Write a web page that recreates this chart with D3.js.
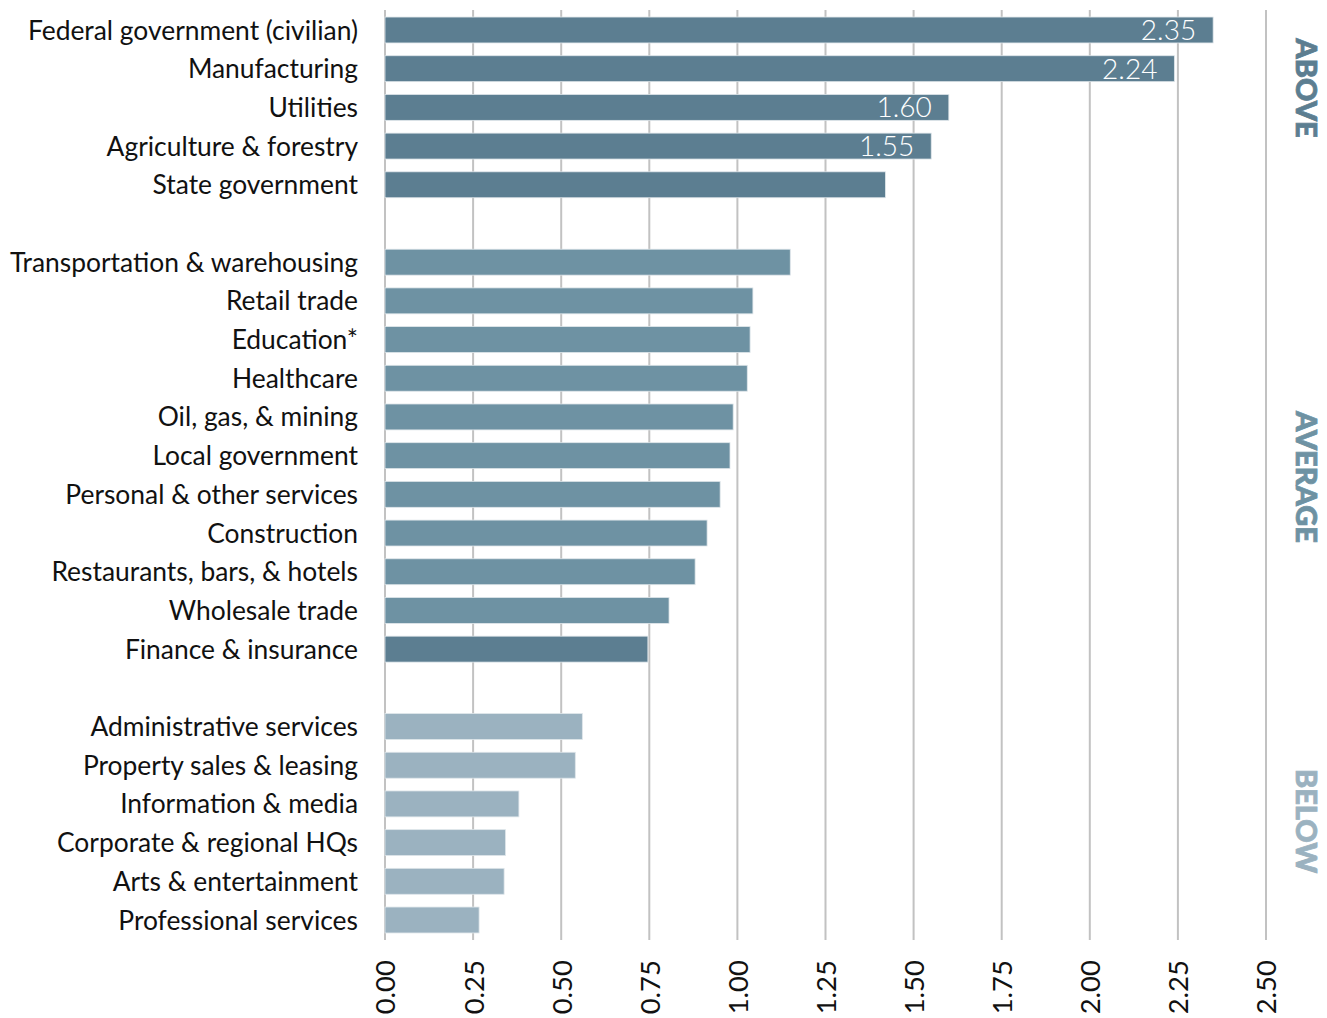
<!DOCTYPE html>
<html>
<head>
<meta charset="utf-8">
<script src="https://cdn.jsdelivr.net/npm/d3@7/dist/d3.min.js"></script>
<style>
  html, body { margin: 0; padding: 0; background: #fff; }
  svg { display: block; }
  text { font-family: Lato, "Open Sans", sans-serif; }
</style>
</head>
<body>
<svg id="chart" width="1327" height="1018"></svg>
<script>
// Location quotient by industry, grouped into above / average / below
const categories = [
  "Federal government (civilian)", "Manufacturing", "Utilities", "Agriculture & forestry", "State government",
  "Transportation & warehousing", "Retail trade", "Education*", "Healthcare", "Oil, gas, & mining",
  "Local government", "Personal & other services", "Construction", "Restaurants, bars, & hotels",
  "Wholesale trade", "Finance & insurance",
  "Administrative services", "Property sales & leasing", "Information & media",
  "Corporate & regional HQs", "Arts & entertainment", "Professional services"
];
const values = [
  2.35, 2.24, 1.60, 1.55, 1.42,
  1.15, 1.044, 1.036, 1.028, 0.988, 0.979, 0.951, 0.914, 0.88, 0.806, 0.746,
  0.56, 0.54, 0.38, 0.342, 0.338, 0.267
];
const groups = [
  "above", "above", "above", "above", "above",
  "average", "average", "average", "average", "average", "average", "average", "average", "average", "average", "average",
  "below", "below", "below", "below", "below", "below"
];
// Finance & insurance is drawn in the darker shade
const shade = [
  "above", "above", "above", "above", "above",
  "average", "average", "average", "average", "average", "average", "average", "average", "average", "average", "above",
  "below", "below", "below", "below", "below", "below"
];
const valueLabels = ["2.35", "2.24", "1.60", "1.55"];
const groupNames = ["above", "average", "below"];
const groupTitles = ["ABOVE", "AVERAGE", "BELOW"];
const tickValues = [0, 0.25, 0.5, 0.75, 1.0, 1.25, 1.5, 1.75, 2.0, 2.25, 2.5];

const colors = { above: "#5c7e91", average: "#6e92a3", below: "#9bb2c0" };

const data = categories.map((c, i) => ({
  name: c, value: values[i], group: groups[i], shade: shade[i],
  label: i < valueLabels.length ? valueLabels[i] : null
}));

// band domain with an empty slot between groups
const domain = [];
groupNames.forEach((g, gi) => {
  if (gi > 0) domain.push("__gap" + gi);
  data.filter(d => d.group === g).forEach(d => domain.push(d.name));
});

const svg = d3.select("#chart");
const x = d3.scaleLinear().domain([0, 2.5]).range([385, 1266]);
const y = d3.scaleBand().domain(domain).range([10.65, 939.35])
  .paddingInner(0.33).paddingOuter(0.165);

// vertical gridlines
svg.append("g").selectAll("line").data(tickValues).join("line")
  .attr("x1", d => x(d)).attr("x2", d => x(d))
  .attr("y1", 10).attr("y2", 940)
  .attr("stroke", "#c2c2c2").attr("stroke-width", 2);

// bars
svg.append("g").selectAll("rect").data(data).join("rect")
  .attr("x", x(0))
  .attr("y", d => y(d.name))
  .attr("width", d => x(d.value) - x(0))
  .attr("height", y.bandwidth())
  .attr("fill", d => colors[d.shade])
  .attr("stroke", "#dfe6ea").attr("stroke-width", 0.8);

// value labels inside the top bars
svg.append("g").selectAll("text").data(data.filter(d => d.label)).join("text")
  .attr("x", d => x(d.value) - 17)
  .attr("y", d => y(d.name) + y.bandwidth() / 2)
  .attr("dy", "0.36em")
  .attr("text-anchor", "end")
  .attr("fill", "#fff")
  .attr("font-size", 28)
  .attr("font-weight", 300)
  .text(d => d.label);

// category labels
svg.append("g").selectAll("text").data(data).join("text")
  .attr("x", 358)
  .attr("y", d => y(d.name) + y.bandwidth() / 2)
  .attr("dy", "0.36em")
  .attr("text-anchor", "end")
  .attr("fill", "#111")
  .attr("font-size", 26.4)
  .text(d => d.name);

// x-axis tick labels, rotated
const xAxis = d3.axisBottom(x).tickValues(tickValues).tickFormat(d3.format(".2f")).tickSize(0).tickPadding(0);
const axisG = svg.append("g").attr("transform", "translate(0,960)").call(xAxis);
axisG.select(".domain").remove();
axisG.selectAll("text")
  .attr("transform", "rotate(-90)")
  .attr("x", 0).attr("y", 0).attr("dy", "0.36em")
  .attr("text-anchor", "end")
  .attr("fill", "#111")
  .attr("font-size", 27.5)
  .attr("font-family", "Lato, sans-serif");

// group titles on the right
const titleY = [88, 477, 821];
svg.append("g").selectAll("text").data(groupNames).join("text")
  .attr("transform", (g, i) => `translate(1306,${titleY[i]}) rotate(90)`)
  .attr("text-anchor", "middle")
  .attr("dy", "0.36em")
  .attr("fill", g => colors[g])
  .attr("font-size", 29)
  .attr("font-weight", 900)
  .attr("stroke", g => colors[g])
  .attr("stroke-width", 0.8)
  .text((g, i) => groupTitles[i]);
</script>
</body>
</html>
